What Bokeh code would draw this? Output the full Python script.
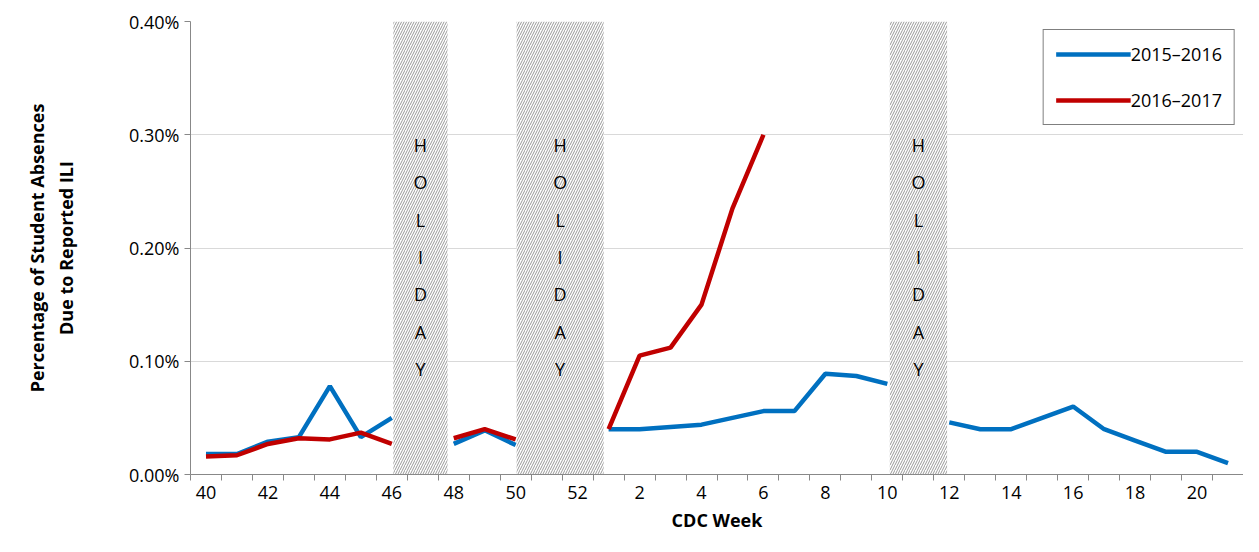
import numpy as np
from bokeh.plotting import figure
from bokeh.models import FixedTicker, Legend, LegendItem, ColumnDataSource
from bokeh.core.properties import value
from bokeh.embed import file_html
from bokeh.resources import INLINE

weeks = [40, 41, 42, 43, 44, 45, 46, 47, 48, 49, 50, 51, 52,
         1, 2, 3, 4, 5, 6, 7, 8, 9, 10, 11, 12, 13, 14, 15, 16, 17, 18, 19, 20, 21]
nan = float("nan")
s1516 = [0.018, 0.018, 0.029, 0.033, 0.078, 0.033, 0.050, nan, 0.027, 0.039, 0.026, nan, nan,
         0.040, 0.040, 0.042, 0.044, 0.050, 0.056, 0.056, 0.089, 0.087, 0.080, nan,
         0.046, 0.040, 0.040, 0.050, 0.060, 0.040, 0.030, 0.020, 0.020, 0.010]
s1617 = [0.016, 0.017, 0.027, 0.032, 0.031, 0.037, 0.027, nan, 0.032, 0.040, 0.031, nan, nan,
         0.040, 0.105, 0.112, 0.150, 0.235, 0.300] + [nan] * 15
holidays = [(6.05, 7.8), (10.03, 12.84), (22.08, 23.93)]
yticks = [0.0, 0.001, 0.002, 0.003, 0.004]

FONT = "Open Sans"
idx = np.arange(len(weeks), dtype=float)
src = ColumnDataSource(dict(x=idx, a=np.array(s1516) / 100, b=np.array(s1617) / 100))

p = figure(width=1243, height=536, output_backend="svg", toolbar_location=None,
           x_range=(-0.5, len(weeks) - 0.5), y_range=(0, 0.004),
           min_border_left=190, min_border_right=0, min_border_top=21, min_border_bottom=62)
p.outline_line_color = None
p.xgrid.grid_line_color = None
p.ygrid.grid_line_color = "#d9d9d9"
p.ygrid.ticker = FixedTicker(ticks=yticks)

l1 = p.line("x", "a", source=src, line_color="#0070C0", line_width=4.5)
l2 = p.line("x", "b", source=src, line_color="#C00000", line_width=4.5)

p.quad(left=[h[0] for h in holidays], right=[h[1] for h in holidays],
       bottom=-0.00004, top=0.004, fill_color="white", line_color=None,
       hatch_pattern="/", hatch_color="#999999", hatch_scale=5, hatch_weight=1)
letters = list("HOLIDAY")
for a, b in holidays:
    p.text(x=[(a + b) / 2] * 7, y=[0.00291 - k * 0.00033 for k in range(7)], text=letters,
           text_align="center", text_baseline="middle", text_font=value(FONT),
           text_font_size="18px", text_color="black")

ti = list(range(len(weeks)))
p.xaxis.ticker = FixedTicker(ticks=ti[::2], minor_ticks=[i - 0.5 for i in ti] + [len(ti) - 0.5])
p.xaxis.major_label_overrides = {i: str(weeks[i]) for i in ti[::2]}
p.xaxis.major_tick_out = 0
p.xaxis.major_tick_in = 0
p.xaxis.minor_tick_out = 6
p.xaxis.minor_tick_in = 0
p.xaxis.axis_label = "CDC Week"
p.yaxis.ticker = FixedTicker(ticks=yticks)
p.yaxis.major_label_overrides = {t: "%.2f%%" % (t * 100) for t in yticks}
p.yaxis.minor_tick_line_color = None
p.yaxis.major_tick_out = 6
p.yaxis.major_tick_in = 0
p.yaxis.axis_label = "Percentage of Student Absences\nDue to Reported ILI"
for ax in (p.xaxis[0], p.yaxis[0]):
    ax.axis_line_color = "#888888"
    ax.major_tick_line_color = "#888888"
    ax.minor_tick_line_color = "#888888"
    ax.major_label_text_font = FONT
    ax.major_label_text_font_size = "18px"
    ax.major_label_text_color = "black"
    ax.axis_label_text_font = FONT
    ax.axis_label_text_font_size = "18px"
    ax.axis_label_text_font_style = "bold"
    ax.axis_label_text_color = "black"
p.yaxis.axis_label_standoff = 48
p.xaxis.axis_label_standoff = 6

legend = Legend(items=[LegendItem(label="2015\u20132016", renderers=[l1]),
                       LegendItem(label="2016\u20132017", renderers=[l2])],
                location="top_right", border_line_color="black", border_line_width=1,
                label_text_font=FONT, label_text_font_size="18px", label_text_color="black",
                glyph_width=75, spacing=22, padding=12, margin=8, label_standoff=0)
p.add_layout(legend)

open("out.html", "w").write(file_html(p, INLINE))
